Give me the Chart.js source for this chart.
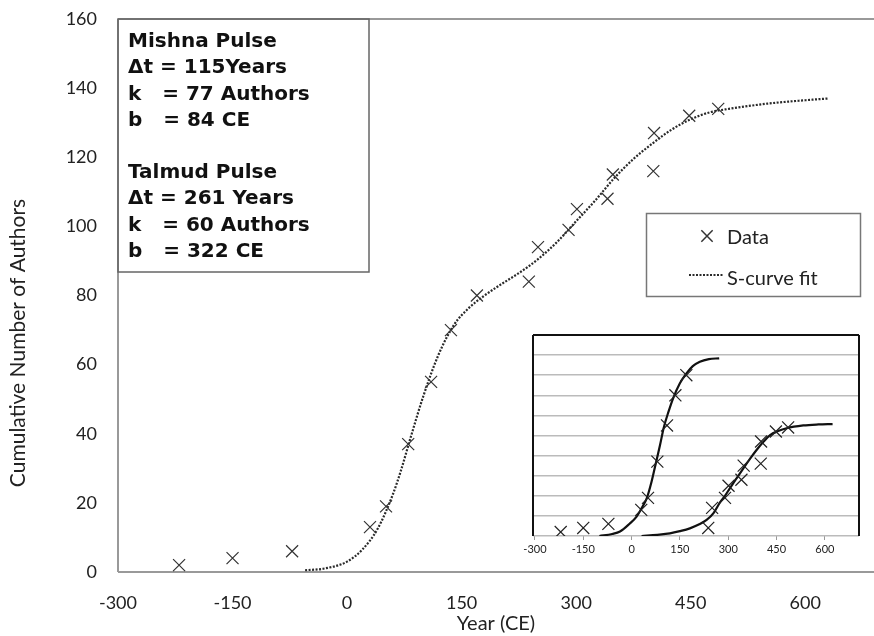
<!DOCTYPE html>
<html>
<head>
<meta charset="utf-8">
<script src="https://cdn.jsdelivr.net/npm/chart.js@4"></script>
<style>
  html, body { margin: 0; padding: 0; background: #fff; overflow: hidden; }
  #wrap { position: relative; width: 874px; height: 636px; }
  #main { position: absolute; left: 0; top: 0; }
  #inset { position: absolute; left: 510px; top: 322px; background: #fff; }
</style>
</head>
<body>
<div id="wrap">
  <canvas id="main" width="874" height="636"></canvas>
  <canvas id="inset" width="364" height="244"></canvas>
</div>
<script>
// values
const dataYears = [-220, -150, -72, 30, 51, 80, 110, 136, 170, 238, 250, 290, 301, 341, 348, 401, 402, 448, 486];
const dataAuthors = [2, 4, 6, 13, 19, 37, 55, 70, 80, 84, 94, 99, 105, 108, 115, 116, 127, 132, 134];

const fitYears = [-55, -30, 0, 20, 40, 60, 70, 84, 100, 120, 140, 160, 180, 200, 225, 250, 275, 300, 325, 350, 375, 400, 425, 450, 475, 500, 550, 600, 630];
const fitAuthors = [0.5, 1, 3, 6.5, 12.5, 22.5, 29, 39.5, 51, 63, 71.5, 76.5, 80, 83, 86.5, 90.5, 95.5, 101.5, 107.5, 114, 119.5, 124, 128, 131, 133, 134, 135.5, 136.5, 137];

const xTicks = [-300, -150, 0, 150, 300, 450, 600];
const yTicks = [0, 20, 40, 60, 80, 100, 120, 140, 160];

// inset: the two pulses plotted separately
const mishnaYears = [-220, -150, -72, 30, 51, 80, 110, 136, 170];
const mishnaAuthors = [2, 4, 6, 13, 19, 37, 55, 70, 80];
const talmudYears = [238, 250, 290, 301, 341, 348, 401, 402, 448, 486];
const talmudAuthors = [4, 14, 19, 25, 28, 35, 36, 47, 52, 54];

const mishnaFitYears = [-100, -60, -36, -5, 15, 31, 47, 62, 75, 88, 100, 115, 129, 150, 171, 190, 212, 240, 272];
const mishnaFitAuthors = [0, 1, 2.2, 6.3, 9.5, 13.8, 18.7, 27, 36, 45, 54, 62, 68.5, 76, 81, 84.5, 86.7, 88, 88.4];
const talmudFitYears = [31, 80, 119, 150, 181, 210, 233, 255, 274, 290, 305, 325, 347, 368, 388, 410, 430, 455, 481, 533, 580, 624];
const talmudFitAuthors = [0, 0.6, 1.3, 2.4, 3.8, 5.8, 8, 11.5, 16.6, 20, 23.7, 28.5, 33.7, 38.5, 42.8, 47, 50.2, 52.2, 53.6, 55, 55.5, 55.7];

const insetXTicks = [-300, -150, 0, 150, 300, 450, 600];
const insetYTicks = [0, 10, 20, 30, 40, 50, 60, 70, 80, 90, 100];

const noteLines = [
    'Mishna Pulse',
    '\u0394t = 115Years',
    'k   = 77 Authors',
    'b   = 84 CE',
    '',
    'Talmud Pulse',
    '\u0394t = 261 Years',
    'k   = 60 Authors',
    'b   = 322 CE'
];

function toPoints(xs, ys) {
    return xs.map((x, i) => ({ x: x, y: ys[i] }));
}

function fixTicks(values) {
    return function(scale) {
        scale.ticks = values.map((v) => ({ value: v }));
    };
}

// pin the scale box size and drop the label overhang padding
function fixSize(prop, size) {
    return function(scale) {
        scale[prop] = size;
        scale.paddingTop = 0;
        scale.paddingBottom = 0;
        scale.paddingLeft = 0;
        scale.paddingRight = 0;
    };
}

// border around the plot area, only on the sides asked for
const framePlugin = {
    id: 'frame',
    beforeDatasetsDraw(chart, args, opts) {
        const a = chart.chartArea;
        const ctx = chart.ctx;
        ctx.save();
        ctx.strokeStyle = opts.color;
        ctx.lineWidth = opts.width;
        ctx.beginPath();
        opts.sides.forEach((side) => {
            if (side === 'top') { ctx.moveTo(a.left, a.top); ctx.lineTo(a.right, a.top); }
            if (side === 'left') { ctx.moveTo(a.left, a.top); ctx.lineTo(a.left, a.bottom); }
            if (side === 'right') { ctx.moveTo(a.right, a.top); ctx.lineTo(a.right, a.bottom); }
            if (side === 'bottom') { ctx.moveTo(a.left, a.bottom); ctx.lineTo(a.right, a.bottom); }
        });
        ctx.stroke();
        ctx.restore();
    }
};

// parameter box, legend and the y title
const notesPlugin = {
    id: 'notes',
    afterDraw(chart) {
        const ctx = chart.ctx;
        const a = chart.chartArea;
        ctx.save();

        // parameter box
        ctx.strokeStyle = '#666';
        ctx.lineWidth = 1.5;
        ctx.strokeRect(a.left, a.top, 251, 253);
        ctx.fillStyle = '#111';
        ctx.font = 'bold 20px "DejaVu Sans"';
        ctx.textBaseline = 'middle';
        ctx.textAlign = 'left';
        noteLines.forEach((line, i) => {
            ctx.fillText(line, a.left + 10, a.top + 23 + i * 26.2);
        });

        // legend
        const ds = chart.data.datasets;
        ctx.strokeStyle = '#777';
        ctx.lineWidth = 1.5;
        ctx.strokeRect(646.5, 213.5, 214, 83);
        ctx.strokeStyle = ds[0].borderColor;
        Chart.helpers.drawPoint(ctx, { pointStyle: 'crossRot', radius: 8, borderWidth: 1.2 }, 707, 236);
        ctx.strokeStyle = ds[1].borderColor;
        ctx.lineWidth = ds[1].borderWidth;
        ctx.setLineDash(ds[1].borderDash);
        ctx.beginPath();
        ctx.moveTo(689, 275);
        ctx.lineTo(724, 275);
        ctx.stroke();
        ctx.setLineDash([]);
        ctx.fillStyle = '#222';
        ctx.font = '20px Lato';
        ctx.fillText(ds[0].label, 727, 238);
        ctx.fillText(ds[1].label, 727, 279);

        // y axis title
        ctx.translate(18, 343);
        ctx.rotate(-Math.PI / 2);
        ctx.textAlign = 'center';
        ctx.font = '21px Lato';
        ctx.fillText('Cumulative Number of Authors', 0, 0);
        ctx.restore();
    }
};

new Chart(document.getElementById('main'), {
    type: 'scatter',
    data: {
        datasets: [
            {
                label: 'Data',
                data: toPoints(dataYears, dataAuthors),
                pointStyle: 'crossRot',
                pointRadius: 8.5,
                pointBorderWidth: 1.2,
                borderColor: '#333',
                backgroundColor: '#333',
                order: 0
            },
            {
                label: 'S-curve fit',
                data: toPoints(fitYears, fitAuthors),
                showLine: true,
                pointRadius: 0,
                borderColor: '#2a2a2a',
                borderWidth: 2.2,
                borderDash: [2, 1.5],
                cubicInterpolationMode: 'monotone',
                order: 1
            }
        ]
    },
    options: {
        responsive: false,
        animation: false,
        events: [],
        layout: { autoPadding: false, padding: { top: 19, left: 0, right: 0, bottom: 0 } },
        scales: {
            x: {
                type: 'linear',
                min: -300,
                max: 690,
                afterBuildTicks: fixTicks(xTicks),
                afterFit: fixSize('height', 64),
                grid: { display: false, drawTicks: false },
                border: { display: false },
                ticks: { padding: 20, color: '#222', maxRotation: 0, font: { family: 'Lato', size: 18 } },
                title: { display: true, text: 'Year (CE)', color: '#222', padding: 0, font: { family: 'Lato', size: 20 } }
            },
            y: {
                min: 0,
                max: 160,
                afterBuildTicks: fixTicks(yTicks),
                afterFit: fixSize('width', 118),
                grid: { display: false, drawTicks: false },
                border: { display: false },
                ticks: { padding: 21, color: '#222', font: { family: 'Lato', size: 18 } }
            }
        },
        plugins: {
            legend: { display: false },
            tooltip: { enabled: false },
            frame: { color: '#999', width: 2, sides: ['top', 'left', 'bottom'] }
        }
    },
    plugins: [framePlugin, notesPlugin]
});

new Chart(document.getElementById('inset'), {
    type: 'scatter',
    data: {
        datasets: [
            {
                label: 'Mishna data',
                data: toPoints(mishnaYears, mishnaAuthors),
                pointStyle: 'crossRot',
                pointRadius: 8.5,
                pointBorderWidth: 1.2,
                borderColor: '#222'
            },
            {
                label: 'Talmud data',
                data: toPoints(talmudYears, talmudAuthors),
                pointStyle: 'crossRot',
                pointRadius: 8.5,
                pointBorderWidth: 1.2,
                borderColor: '#222'
            },
            {
                label: 'Mishna fit',
                data: toPoints(mishnaFitYears, mishnaFitAuthors),
                showLine: true,
                pointRadius: 0,
                borderColor: '#111',
                borderWidth: 2.2,
                cubicInterpolationMode: 'monotone'
            },
            {
                label: 'Talmud fit',
                data: toPoints(talmudFitYears, talmudFitAuthors),
                showLine: true,
                pointRadius: 0,
                borderColor: '#111',
                borderWidth: 2.2,
                cubicInterpolationMode: 'monotone'
            }
        ]
    },
    options: {
        responsive: false,
        animation: false,
        events: [],
        layout: { autoPadding: false, padding: { top: 13, right: 15, left: 0, bottom: 0 } },
        scales: {
            x: {
                type: 'linear',
                min: -306,
                max: 706,
                afterBuildTicks: fixTicks(insetXTicks),
                afterFit: fixSize('height', 30),
                grid: { display: true, drawOnChartArea: false, drawTicks: true, tickLength: 4, color: '#999' },
                border: { display: false },
                ticks: { padding: 3, color: '#222', maxRotation: 0, font: { family: 'Lato', size: 11 } }
            },
            y: {
                min: 0,
                max: 100,
                afterBuildTicks: fixTicks(insetYTicks),
                afterFit: fixSize('width', 23),
                grid: { color: '#bbb', lineWidth: 1.5, drawTicks: false },
                border: { display: false },
                ticks: { display: false }
            }
        },
        plugins: {
            legend: { display: false },
            tooltip: { enabled: false },
            frame: { color: '#111', width: 2, sides: ['top', 'left', 'right'] }
        }
    },
    plugins: [framePlugin]
});
</script>
</body>
</html>
